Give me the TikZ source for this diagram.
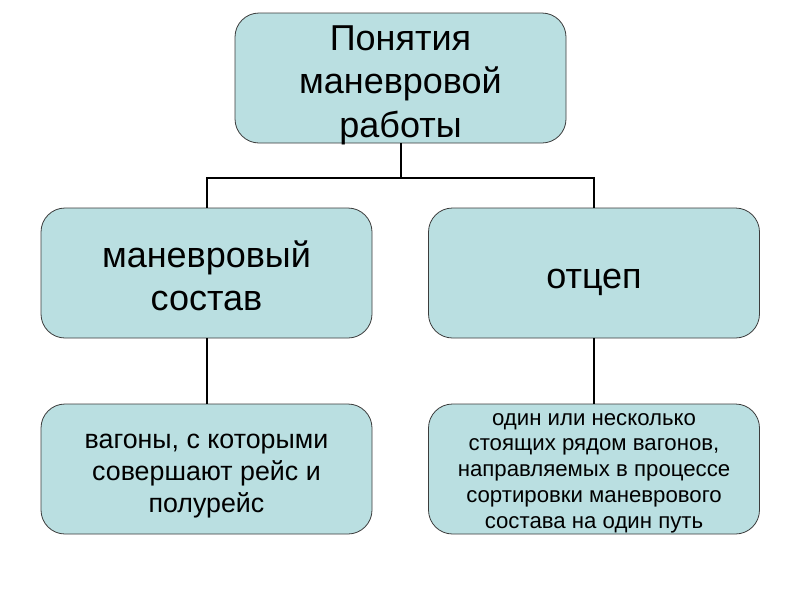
\documentclass[tikz,border=0pt]{standalone}
\usepackage{fontspec}
\setmainfont{Liberation Sans}
\definecolor{boxfill}{RGB}{186,223,225}
\definecolor{boxline}{RGB}{60,60,60}
\begin{document}
\begin{tikzpicture}[x=1pt,y=-1pt,
  box/.style={draw=boxline,line width=0.8pt,fill=boxfill,rounded corners=24pt,
    minimum width=331pt,minimum height=130pt,inner sep=0pt,align=center},
  lbl/.style={anchor=base,align=center,inner sep=0pt},
  conn/.style={draw=black,line width=2pt}]
\useasboundingbox (0,0) rectangle (800,600);
\fill[white] (0,0) rectangle (800,600);
% boxes
\node[box] (top) at (400.5,78) {};
\node[box] (left) at (206.5,273) {};
\node[box] (right) at (594,273) {};
\node[box] (bl) at (206.5,469) {};
\node[box] (br) at (594,469) {};
% texts
\node[lbl,font=\fontsize{36}{43.5}\selectfont] (ttop) at (400.5,137) {Понятия\\маневровой\\работы};
\node[lbl,font=\fontsize{36}{43}\selectfont] (tleft) at (206.5,310) {маневровый\\состав};
\node[lbl,font=\fontsize{36}{43}\selectfont] (tright) at (594,288) {отцеп};
\node[lbl,font=\fontsize{26.8}{32}\selectfont] (tbl) at (206.5,512) {вагоны, с которыми\\совершают рейс и\\полурейс};
\node[lbl,font=\fontsize{22.2}{25.7}\selectfont] (tbr) at (594,528) {один или несколько\\стоящих рядом вагонов,\\направляемых в процессе\\сортировки маневрового\\состава на один путь};
% connectors
\coordinate (j) at (400.5,178);
\draw[conn] (top.south) -- (j);
\draw[conn] (left.north) |- (j) -| (right.north);
\draw[conn] (left.south) -- (bl.north);
\draw[conn] (right.south) -- (br.north);
\end{tikzpicture}
\end{document}
